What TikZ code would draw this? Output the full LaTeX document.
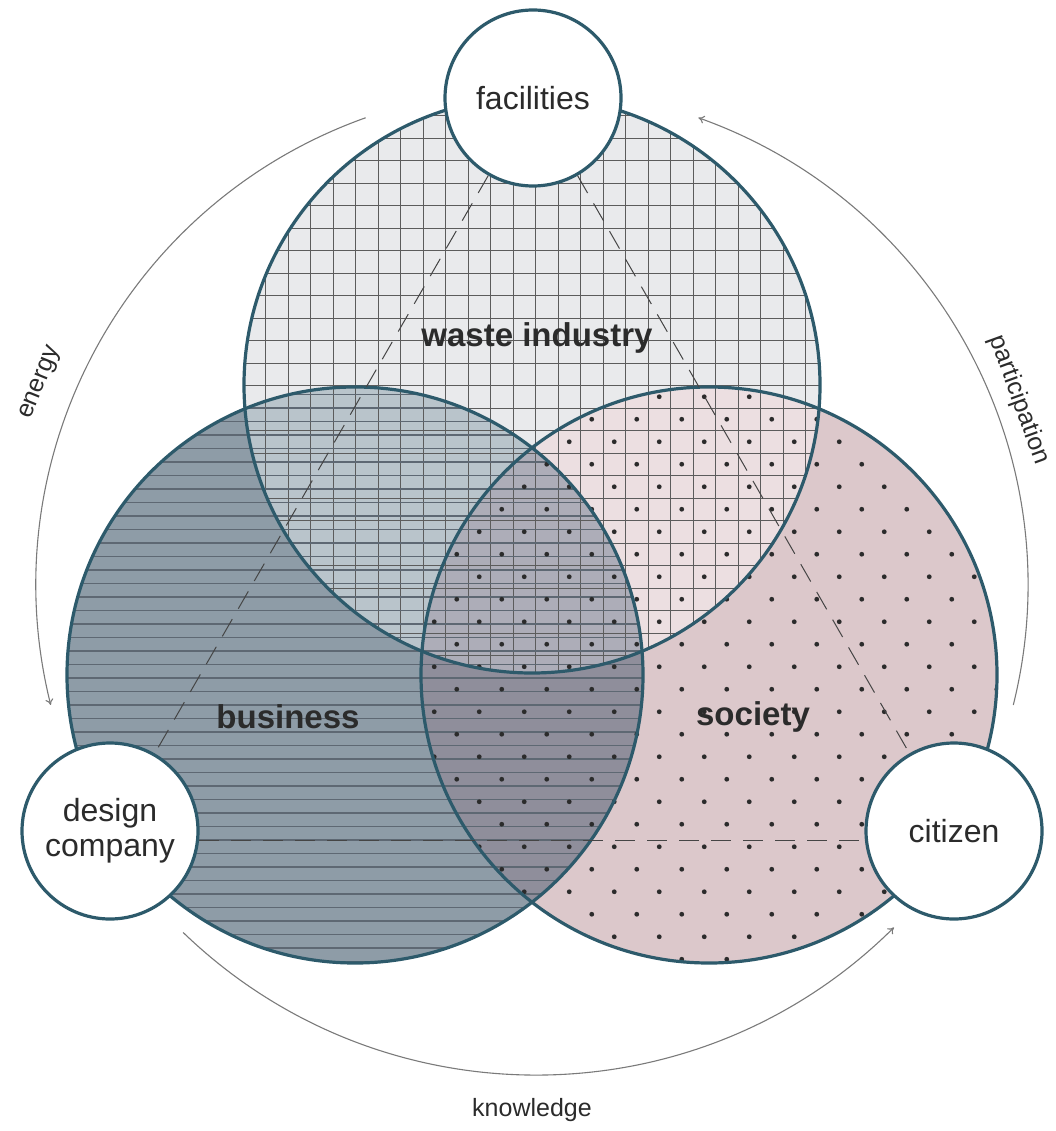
\documentclass[tikz,border=0pt]{standalone}
\usepackage{fontspec}
\setmainfont{Liberation Sans}
\usetikzlibrary{arrows.meta}
\begin{document}
\begin{tikzpicture}[x=1pt,y=-1pt,
  hub/.style={circle,draw=rim,line width=3.2pt,fill=white,minimum size=176pt,inner sep=0pt,
    align=center,text=ink,font=\fontsize{32}{35}\selectfont},
  sector/.style={text=ink,font=\fontsize{33}{36}\selectfont\bfseries},
  flow/.style={draw=flowc,line width=1.1pt,-{To[length=6pt,width=8pt]}},
  flowlabel/.style={text=ink,font=\fontsize{25}{28}\selectfont},
  link/.style={draw=dashc,line width=1pt,dash pattern=on 20pt off 12pt},
  rimline/.style={draw=rim,line width=3.2pt}]
\definecolor{rim}{HTML}{2D5A6B}\definecolor{ink}{HTML}{2B2B2B}
\definecolor{flowc}{HTML}{7A7A7A}\definecolor{dashc}{HTML}{454545}
\definecolor{gridc}{HTML}{5C5C5C}\definecolor{hatchc}{HTML}{5E6873}
\definecolor{cT}{HTML}{E9EAEC}\definecolor{cL}{HTML}{8E9CA7}
\definecolor{cR}{HTML}{DCC8CB}\definecolor{cLR}{HTML}{8F8E9B}
\definecolor{cTL}{HTML}{B9C4CB}\definecolor{cTR}{HTML}{ECDFE1}
\definecolor{cTLR}{HTML}{ADADB8}
\useasboundingbox (0,0) rectangle (1055,1131);
\coordinate (T) at (532,385);
\coordinate (L) at (355,675);
\coordinate (R) at (709,675);
\coordinate (O) at (532,585);
\coordinate (B) at (536,567);
% fills of the three sets and their overlaps
\fill[cL] (L) circle[radius=288];
\fill[cR] (R) circle[radius=288];
\begin{scope}
  \clip (L) circle[radius=288];
  \fill[cLR] (R) circle[radius=288];
\end{scope}
\fill[cT] (T) circle[radius=288];
\begin{scope}
  \clip (T) circle[radius=288];
  \fill[cTL] (L) circle[radius=288];
  \fill[cTR] (R) circle[radius=288];
  \clip (L) circle[radius=288];
  \fill[cTLR] (R) circle[radius=288];
\end{scope}
% grid in waste industry
\begin{scope}
  \clip (T) circle[radius=288];
  \foreach \x in {265.5,288,...,830}
    \draw[gridc,line width=.8pt] (\x,90) -- (\x,680);
  \foreach \y in {93,115.5,...,680}
    \draw[gridc,line width=.8pt] (240,\y) -- (825,\y);
\end{scope}
% hatching in business
\begin{scope}
  \clip (L) circle[radius=288];
  \foreach \y in {394.5,408,...,970}
    \draw[hatchc,line width=1.2pt] (60,\y) -- (650,\y);
\end{scope}
% dots in society
\begin{scope}
  \clip (R) circle[radius=288];
  \foreach \k in {0,...,25}
    \foreach \m in {11,...,36}{
      \pgfmathtruncatemacro\odd{mod(\k+\m,2)}
      \ifnum\odd=1 \fill[ink] (434.25+22.5*\k,149.25+22.5*\m) circle[radius=2.4]; \fi
    }
\end{scope}
\draw[rimline] (T) circle[radius=288];
\draw[rimline] (L) circle[radius=288];
\draw[rimline] (R) circle[radius=288];
\node[sector] (waste) at (537,338) {waste industry};
\node[sector] (business) at (288,717) {business};
\node[sector] (society) at (753,717) {society};
% flows round the outside
\draw[flow] (O) ++(250.4:496) arc[start angle=250.4,end angle=166,radius=496];
\draw[flow] (O) ++(14:496) arc[start angle=14,end angle=-70.4,radius=496];
\draw[flow] (B) ++(134:508) arc[start angle=134,end angle=45.2,radius=508];
\node[flowlabel,rotate=68] (energy) at (41,383) {energy};
\node[flowlabel,rotate=-70] (participation) at (1019,400) {participation};
\node[flowlabel] (knowledge) at (532,1110) {knowledge};
% actors
\node[hub] (fac) at (533,98) {facilities};
\node[hub] (des) at (110,831) {design\\company};
\node[hub] (cit) at (954,831) {citizen};
\draw[link] (fac) -- (des);
\draw[link] (fac) -- (cit);
\draw[link] (des.-6.5) -- (cit.186.5);
\end{tikzpicture}
\end{document}
